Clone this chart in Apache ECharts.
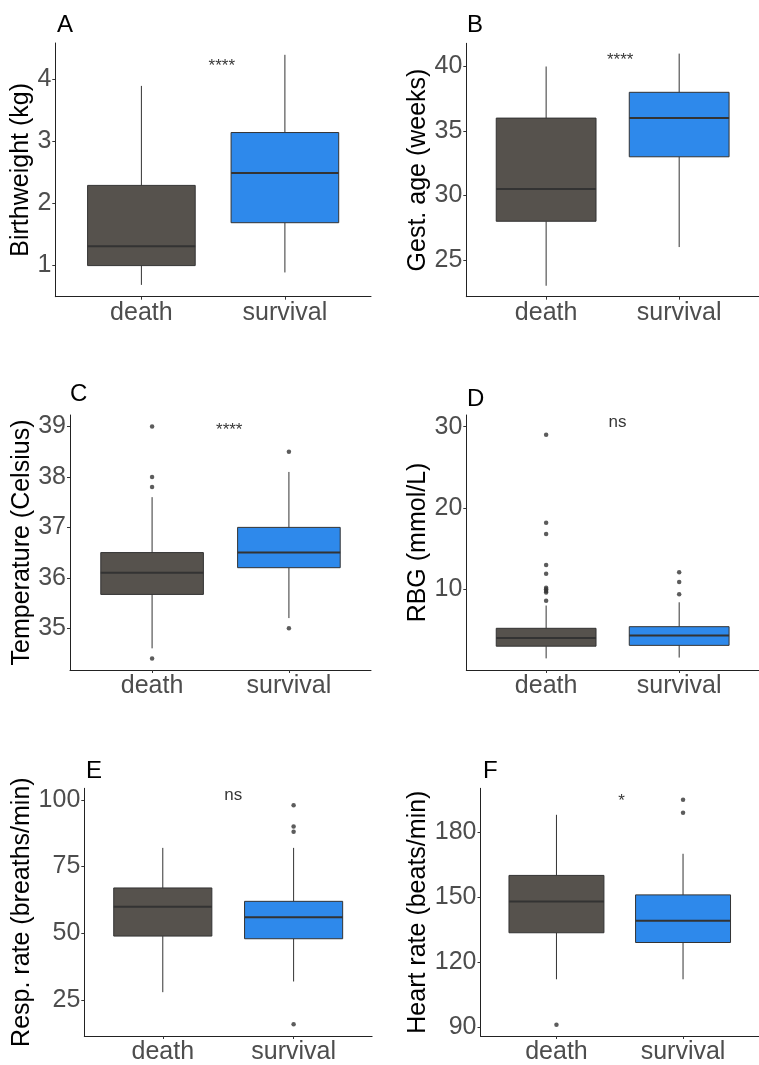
<!DOCTYPE html>
<html>
<head>
<meta charset="utf-8">
<title>Neonatal outcome boxplots</title>
<script src="https://cdn.jsdelivr.net/npm/echarts@6/dist/echarts.min.js"></script>
<style>
html, body { margin: 0; padding: 0; background: #fff; }
#main { width: 759px; height: 1065px; }
</style>
</head>
<body>
<div id="main"></div>
<script>
// groups on the x axis (positions 1 and 2)
var groups = ['death', 'survival'];
var groupPos = [1, 2];

// box stats per group: [min, Q1, median, Q3, max]
var bwBox = [[0.69, 1.0, 1.31, 2.29, 3.89], [0.89, 1.69, 2.49, 3.14, 4.39]];
var bwOut = [[], []];
var gaBox = [[23, 28, 30.5, 36, 40], [26, 33, 36, 38, 41]];
var gaOut = [[], []];
var tempBox = [[34.6, 35.67, 36.1, 36.5, 37.6], [35.2, 36.2, 36.5, 37.0, 38.1]];
var tempOut = [[39.0, 38.0, 37.8, 34.4], [38.5, 35.0]];
var rbgBox = [[1.5, 3.0, 4.0, 5.2, 8.0], [1.6, 3.1, 4.3, 5.4, 8.4]];
var rbgOut = [[8.6, 9.6, 9.8, 10.0, 10.2, 11.9, 13.0, 16.8, 18.2, 29.0], [9.4, 10.9, 12.1]];
var rrBox = [[28, 49, 60, 67, 82], [32, 48, 56, 62, 82]];
var rrOut = [[], [98, 90, 88, 16]];
var hrBox = [[112, 133.5, 148, 160, 188], [112, 129, 139, 151, 170]];
var hrOut = [[91], [195, 189]];

// y tick labels
var bwTicks = [1, 2, 3, 4];
var gaTicks = [25, 30, 35, 40];
var tempTicks = [35, 36, 37, 38, 39];
var rbgTicks = [10, 20, 30];
var rrTicks = [25, 50, 75, 100];
var hrTicks = [90, 120, 150, 180];

// significance labels and where they sit [x, y]
var sigText = ['****', '****', '****', 'ns', 'ns', '*'];
var sigAt = [[1.56, 4.21], [1.557, 40.48], [1.564, 38.93], [1.537, 30.5], [1.539, 101.8], [1.515, 194.1]];

var fillColors = ['#56524d', '#2e89eb'];
var LINE = '#333';
var FONT = '"Liberation Sans", Arial, Helvetica, sans-serif';

// layout of the six panels
var panels = [
  { letter: 'A', name: 'Birthweight (kg)', box: bwBox, out: bwOut, ticks: bwTicks,
    left: 55.3, top: 43, width: 315.7, height: 253.7, ymin: 0.5, ymax: 4.58, gap: 14, lx: 57, ly: 13 },
  { letter: 'B', name: 'Gest. age (weeks)', box: gaBox, out: gaOut, ticks: gaTicks,
    left: 466.3, top: 43.3, width: 301.8, height: 253.4, ymin: 22.15, ymax: 41.8, gap: 34, lx: 467, ly: 13 },
  { letter: 'C', name: 'Temperature (Celsius)', box: tempBox, out: tempOut, ticks: tempTicks,
    left: 70, top: 415, width: 301, height: 255, ymin: 34.17, ymax: 39.23, gap: 34, lx: 70, ly: 382 },
  { letter: 'D', name: 'RBG (mmol/L)', box: rbgBox, out: rbgOut, ticks: rbgTicks,
    left: 466.3, top: 415, width: 301.8, height: 255, ymin: 0.07, ymax: 31.44, gap: 34, lx: 467, ly: 387 },
  { letter: 'E', name: 'Resp. rate (breaths/min)', box: rrBox, out: rrOut, ticks: rrTicks,
    left: 84.3, top: 788.3, width: 287.8, height: 254.4, ymin: 11.6, ymax: 104.3, gap: 49, lx: 86, ly: 759 },
  { letter: 'F', name: 'Heart rate (beats/min)', box: hrBox, out: hrOut, ticks: hrTicks,
    left: 480.5, top: 788.3, width: 287.1, height: 254.4, ymin: 85.8, ymax: 200.25, gap: 43, lx: 483, ly: 759 }
];

// ggplot-style box: whiskers without caps, thick median
function renderBox(params, api) {
  var x = api.value(0);
  var lo = api.coord([x, api.value(1)]);
  var q1 = api.coord([x, api.value(2)]);
  var med = api.coord([x, api.value(3)]);
  var q3 = api.coord([x, api.value(4)]);
  var hi = api.coord([x, api.value(5)]);
  var half = api.size([0.75, 0])[0] / 2;
  return {
    type: 'group',
    children: [
      { type: 'line', shape: { x1: lo[0], y1: lo[1], x2: q1[0], y2: q1[1] },
        style: { stroke: LINE, lineWidth: 1 } },
      { type: 'line', shape: { x1: q3[0], y1: q3[1], x2: hi[0], y2: hi[1] },
        style: { stroke: LINE, lineWidth: 1 } },
      { type: 'rect', shape: { x: q3[0] - half, y: q3[1], width: half * 2, height: q1[1] - q3[1] },
        style: { fill: fillColors[params.dataIndex], stroke: LINE, lineWidth: 1 } },
      { type: 'line', shape: { x1: med[0] - half, y1: med[1], x2: med[0] + half, y2: med[1] },
        style: { stroke: LINE, lineWidth: 2 } }
    ]
  };
}

var grid = [], xAxis = [], yAxis = [], series = [], title = [];

panels.forEach(function (p, i) {
  grid.push({ left: p.left, top: p.top, width: p.width, height: p.height, containLabel: false });
  title.push({
    text: p.letter, left: p.lx, top: p.ly, padding: 0,
    textStyle: { fontFamily: FONT, fontSize: 24, fontWeight: 'normal', color: '#000' }
  });
  xAxis.push({
    type: 'value', gridIndex: i, min: 0.4, max: 2.6,
    splitLine: { show: false },
    axisLine: { show: true, lineStyle: { color: '#222', width: 1 } },
    axisTick: { show: true, length: 3, customValues: groupPos, lineStyle: { color: '#333' } },
    axisLabel: {
      customValues: groupPos, margin: 4, fontFamily: FONT, fontSize: 25, color: '#4d4d4d',
      formatter: function (v) { return groups[Math.round(v) - 1] || ''; }
    }
  });
  yAxis.push({
    type: 'value', gridIndex: i, min: p.ymin, max: p.ymax,
    name: p.name, nameLocation: 'middle', nameRotate: 90, nameGap: p.gap,
    nameTextStyle: { fontFamily: FONT, fontSize: 25, color: '#000' },
    splitLine: { show: false },
    axisLine: { show: true, lineStyle: { color: '#222', width: 1 } },
    axisTick: { show: true, length: 3, customValues: p.ticks, lineStyle: { color: '#333' } },
    axisLabel: { customValues: p.ticks, margin: 4, fontFamily: FONT, fontSize: 25, color: '#4d4d4d' }
  });

  series.push({
    type: 'custom', xAxisIndex: i, yAxisIndex: i,
    renderItem: renderBox,
    encode: { x: 0, y: [1, 2, 3, 4, 5] },
    data: p.box.map(function (b, g) { return [groupPos[g]].concat(b); })
  });

  var outliers = [];
  p.out.forEach(function (vals, g) {
    vals.forEach(function (v) { outliers.push([groupPos[g], v]); });
  });
  series.push({
    type: 'scatter', xAxisIndex: i, yAxisIndex: i,
    symbolSize: 4.5, itemStyle: { color: '#333' },
    data: outliers
  });

  series.push({
    type: 'scatter', xAxisIndex: i, yAxisIndex: i,
    symbolSize: 1, itemStyle: { color: 'rgba(0,0,0,0)' },
    label: {
      show: true, position: 'inside', formatter: sigText[i],
      fontFamily: FONT, fontSize: 17, color: '#000'
    },
    data: [sigAt[i]]
  });
});

var myChart = echarts.init(document.getElementById('main'));
myChart.setOption({
  animation: false,
  backgroundColor: '#fff',
  title: title,
  grid: grid,
  xAxis: xAxis,
  yAxis: yAxis,
  series: series
});
</script>
</body>
</html>
